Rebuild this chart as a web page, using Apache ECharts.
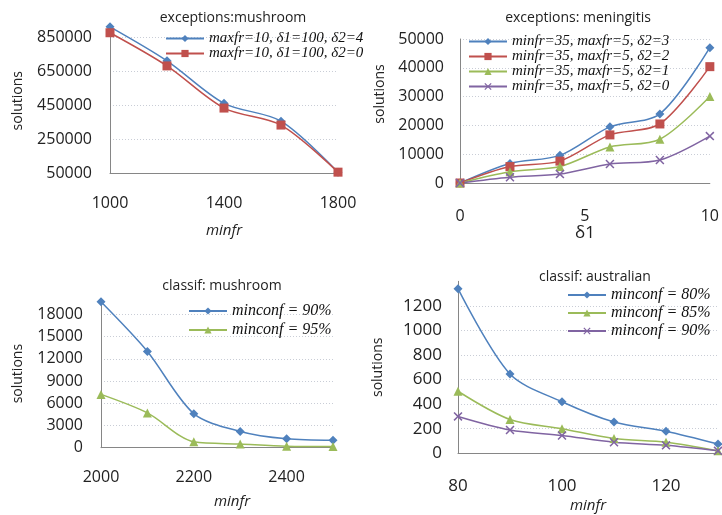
<!DOCTYPE html>
<html>
<head>
<meta charset="utf-8">
<script src="https://cdn.jsdelivr.net/npm/echarts@6/dist/echarts.min.js"></script>
<style>html,body{margin:0;padding:0;background:#fff}#c{width:722px;height:515px}</style>
</head>
<body>
<div id="c"></div>
<script>
// ---- data ----
const p1X = [1000, 1200, 1400, 1600, 1800];
const p1D4 = [910000, 710000, 460000, 355000, 55000];
const p1D0 = [875000, 680000, 432000, 332000, 55000];

const p2X = [0, 2, 4, 6, 8, 10];
const p2D3 = [0, 6800, 9600, 19500, 24000, 47000];
const p2D2 = [0, 5700, 7600, 16700, 20500, 40400];
const p2D1 = [0, 3900, 5700, 12500, 15200, 30000];
const p2D0 = [0, 2000, 3100, 6600, 8000, 16300];

const p3X = [2000, 2100, 2200, 2300, 2400, 2500];
const p3C90 = [19700, 13000, 4600, 2200, 1200, 1000];
const p3C95 = [7200, 4700, 800, 500, 200, 150];

const p4X = [80, 90, 100, 110, 120, 130];
const p4C80 = [1340, 645, 420, 255, 180, 75];
const p4C85 = [505, 275, 200, 120, 90, 20];
const p4C90 = [300, 190, 145, 90, 65, 20];

const titles = ['exceptions:mushroom', 'exceptions: meningitis', 'classif: mushroom', 'classif: australian'];
const names1 = ['maxfr=10, δ1=100, δ2=4', 'maxfr=10, δ1=100, δ2=0'];
const names2 = ['minfr=35, maxfr=5, δ2=3', 'minfr=35, maxfr=5, δ2=2', 'minfr=35, maxfr=5, δ2=1', 'minfr=35, maxfr=5, δ2=0'];
const names3 = ['minconf = 90%', 'minconf = 95%'];
const names4 = ['minconf = 80%', 'minconf = 85%', 'minconf = 90% '];

// ---- styles ----
const BLUE = '#4F81BD', RED = '#C0504D', GREEN = '#9BBB59', PURPLE = '#8064A2';
const XSYM = 'path://M0,1.2L1.2,0L5,3.8L8.8,0L10,1.2L6.2,5L10,8.8L8.8,10L5,6.2L1.2,10L0,8.8L3.8,5Z';
const SANS = 'Open Sans';
const pair = (xs, ys) => xs.map((x, i) => [x, ys[i]]);

function ser(name, xs, ys, idx, color, symbol, size) {
  return {
    type: 'line', name: name, xAxisIndex: idx, yAxisIndex: idx,
    data: pair(xs, ys), smooth: 0.3, symbol: symbol, symbolSize: size,
    showAllSymbol: true, clip: false,
    lineStyle: { color: color, width: 1.5 },
    itemStyle: { color: color },
    emphasis: { disabled: true }
  };
}

function yAxis(idx, min, max, interval, gap, pad) {
  return {
    type: 'value', gridIndex: idx, min: min, max: max, interval: interval,
    name: 'solutions', nameLocation: 'middle', nameGap: gap,
    nameTextStyle: { fontFamily: SANS, fontSize: 14, color: '#222', padding: pad || 0 },
    axisLine: { show: true, lineStyle: { color: '#868686', width: 1 } },
    axisTick: { show: false },
    axisLabel: { fontFamily: SANS, fontSize: idx === 3 ? 17 : 16, color: '#222', margin: idx % 2 ? 16 : 18,
                 showMaxLabel: idx === 1, formatter: v => String(v) },
    splitLine: { show: true, showMinLine: false, showMaxLine: idx === 1,
                 lineStyle: { color: '#c9cdd6', type: [1, 2], width: 1 } }
  };
}

function xAxis(idx, min, max, interval, name, italic, nsize, gap, margin, pad) {
  return {
    type: 'value', gridIndex: idx, min: min, max: max, interval: interval,
    name: name, nameLocation: 'middle', nameGap: gap,
    nameTextStyle: { fontFamily: SANS, fontSize: nsize, fontStyle: italic ? 'italic' : 'normal', color: '#222', padding: pad || 0 },
    axisLine: { show: true, onZero: false, lineStyle: { color: '#868686', width: 1 } },
    axisTick: { show: false },
    axisLabel: { fontFamily: SANS, fontSize: idx === 3 ? 17 : 16, color: '#222', margin: margin,
                 showMaxLabel: idx < 2, formatter: v => String(v) },
    splitLine: { show: false }
  };
}

function legend(names, left, top, gap, fsize) {
  return {
    data: names, left: left, top: top, orient: 'vertical', padding: 0,
    itemGap: gap, itemWidth: 38, itemHeight: 9, selectedMode: false,
    textStyle: { fontFamily: 'Liberation Serif', fontStyle: 'italic', fontSize: fsize, color: '#111', lineHeight: fsize },
    inactiveColor: '#111'
  };
}

const option = {
  animation: false,
  backgroundColor: '#fff',
  title: [
    { text: titles[0], left: 228, top: 6, textAlign: 'center', textStyle: { fontFamily: SANS, fontSize: 14, fontWeight: 'normal', color: '#222' } },
    { text: titles[1], left: 573, top: 6, textAlign: 'center', textStyle: { fontFamily: SANS, fontSize: 14, fontWeight: 'normal', color: '#222' } },
    { text: titles[2], left: 217, top: 274, textAlign: 'center', textStyle: { fontFamily: SANS, fontSize: 14, fontWeight: 'normal', color: '#222' } },
    { text: titles[3], left: 590, top: 265, textAlign: 'center', textStyle: { fontFamily: SANS, fontSize: 14, fontWeight: 'normal', color: '#222' } }
  ],
  legend: [
    legend(names1, 165, 31, 0, 15),
    legend(names2, 468, 34, 0, 15),
    legend(names3, 188, 303, 3, 16),
    legend(names4, 567, 287, 2, 16)
  ],
  grid: [
    { left: 110, top: 28.5, right: 384, bottom: 342 },
    { left: 460, top: 39, right: 8, bottom: 332 },
    { left: 101, top: 299.6, right: 389, bottom: 67.3 },
    { left: 458, top: 281.3, right: 4, bottom: 61.7 }
  ],
  xAxis: [
    xAxis(0, 1000, 1800, 400, 'minfr', true, 15, 50, 22),
    xAxis(1, 0, 10, 5, 'δ1', false, 17, 38, 25),
    xAxis(2, 2000, 2500, 200, 'minfr', true, 15, 47, 22, [0, 0, 0, 30]),
    xAxis(3, 80, 130, 20, 'minfr', true, 15, 45, 24)
  ],
  yAxis: [
    yAxis(0, 50000, 900000, 200000, 85),
    yAxis(1, 0, 50000, 10000, 73, [0, 0, 0, 34]),
    yAxis(2, 0, 20000, 3000, 76),
    yAxis(3, 0, 1400, 200, 73)
  ],
  series: [
    ser(names1[0], p1X, p1D4, 0, BLUE, 'diamond', 9),
    ser(names1[1], p1X, p1D0, 0, RED, 'rect', 9),
    ser(names2[0], p2X, p2D3, 1, BLUE, 'diamond', 9),
    ser(names2[1], p2X, p2D2, 1, RED, 'rect', 9),
    ser(names2[2], p2X, p2D1, 1, GREEN, 'triangle', 9),
    ser(names2[3], p2X, p2D0, 1, PURPLE, XSYM, 9),
    ser(names3[0], p3X, p3C90, 2, BLUE, 'diamond', 9),
    ser(names3[1], p3X, p3C95, 2, GREEN, 'triangle', 9),
    ser(names4[0], p4X, p4C80, 3, BLUE, 'diamond', 9),
    ser(names4[1], p4X, p4C85, 3, GREEN, 'triangle', 9),
    ser(names4[2], p4X, p4C90, 3, PURPLE, XSYM, 9)
  ]
};

const chart = echarts.init(document.getElementById('c'), null, { renderer: 'canvas' });
chart.setOption(option);
</script>
</body>
</html>
